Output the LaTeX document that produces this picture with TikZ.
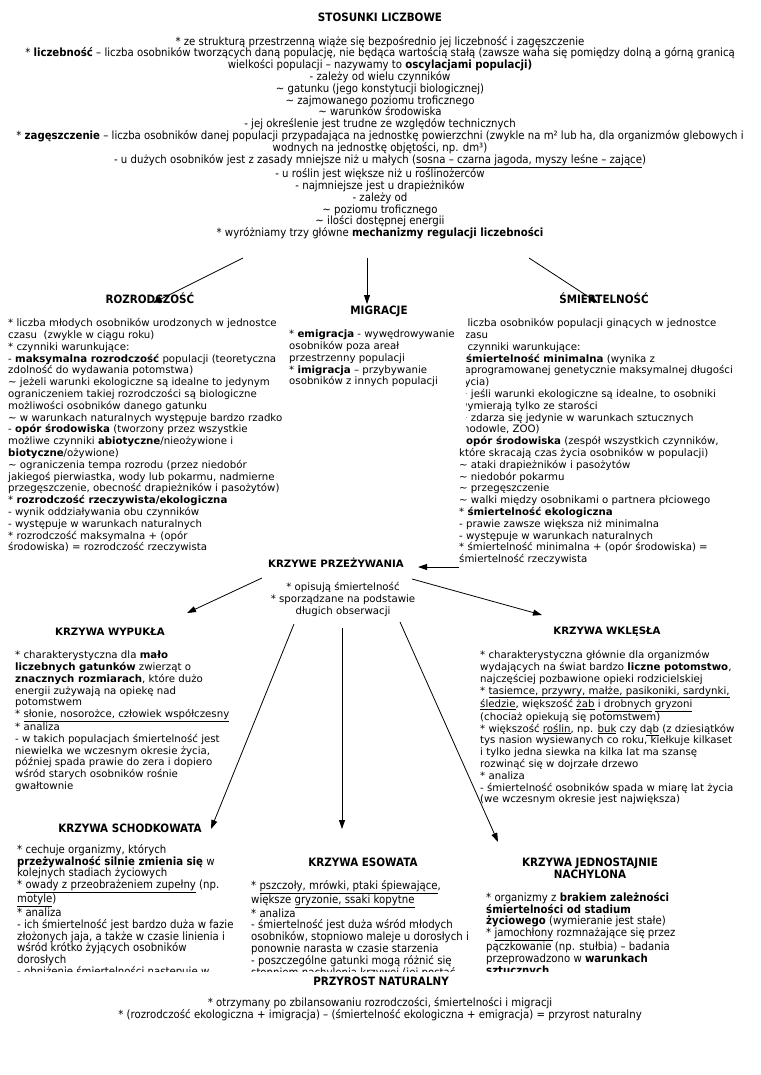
\documentclass[tikz,border=0pt]{standalone}
\usepackage{fontspec}
\setmainfont{DejaVu Sans}
\newfontfamily\calfont[FakeStretch=0.9]{DejaVu Sans}
\usetikzlibrary{arrows.meta}
\newcommand\mystrut{\rule{0pt}{10pt}}
\tikzset{
  body/.style={anchor=north west, inner sep=0pt, align=left, font=\fontsize{10.2}{11.8}\selectfont},
  cbody/.style={anchor=north, inner sep=0pt, align=center, font=\calfont\fontsize{11.3}{11.8}\selectfont},
  clbody/.style={anchor=north west, inner sep=0pt, align=left, font=\calfont\fontsize{11.3}{11.8}\selectfont},
  dhead/.style={inner sep=0pt, font=\bfseries\fontsize{10.2}{11.8}\selectfont},
  chead/.style={inner sep=0pt, align=center, font=\calfont\bfseries\fontsize{11.5}{11.8}\selectfont},
  arr/.style={-{Triangle[length=9pt,width=6pt]}, line width=0.8pt}
}
\begin{document}
\begin{tikzpicture}[x=1pt,y=-1pt]
\useasboundingbox (0,0) rectangle (760,1075);
\fill[white] (0,0) rectangle (760,1075);

\node[chead] (title) at (380,17) {STOSUNKI LICZBOWE};
\node[cbody] (top) at (380,35) {\mystrut* ze strukturą przestrzenną wiąże się bezpośrednio jej liczebność i zagęszczenie\\
* \textbf{liczebność} – liczba osobników tworzących daną populację, nie będąca wartością stałą (zawsze waha się pomiędzy dolną a górną granicą\\
wielkości populacji – nazywamy to \textbf{oscylacjami populacji)}\\
- zależy od wielu czynników\\
\textasciitilde{} gatunku (jego konstytucji biologicznej)\\
\textasciitilde{} zajmowanego poziomu troficznego\\
\textasciitilde{} warunków środowiska\\
- jej określenie jest trudne ze względów technicznych\\
* \textbf{zagęszczenie} – liczba osobników danej populacji przypadająca na jednostkę powierzchni (zwykle na m² lub ha, dla organizmów glebowych i\\
wodnych na jednostkę objętości, np. dm³)\\
- u dużych osobników jest z zasady mniejsze niż u małych (\underline{sosna – czarna jagoda, myszy leśne – zające})\\
- u roślin jest większe niż u roślinożerców\\
- najmniejsze jest u drapieżników\\
- zależy od\\
\textasciitilde{} poziomu troficznego\\
\textasciitilde{} ilości dostępnej energii\\
* wyróżniamy trzy główne \textbf{mechanizmy regulacji liczebności}};

\coordinate (t1) at (243,258);
\coordinate (t2) at (367,258);
\coordinate (t3) at (529,258);
\coordinate (h1) at (153,303);
\coordinate (h2) at (367,304);
\coordinate (h3) at (598,303);

\node[chead] (roz) at (150,298) {ROZRODCZOŚĆ};
\node[chead] (mig) at (379,311) {MIGRACJE};
\node[chead] (smi) at (604,298) {ŚMIERTELNOŚĆ};

\node[body] (rozt) at (8,316.5) {\mystrut* liczba młodych osobników urodzonych w jednostce\\
czasu\ \ (zwykle w ciągu roku)\\
* czynniki warunkujące:\\
- \textbf{maksymalna rozrodczość} populacji (teoretyczna\\
zdolność do wydawania potomstwa)\\
\textasciitilde{} jeżeli warunki ekologiczne są idealne to jedynym\\
ograniczeniem takiej rozrodczości są biologiczne\\
możliwości osobników danego gatunku\\
\textasciitilde{} w warunkach naturalnych występuje bardzo rzadko\\
- \textbf{opór środowiska} (tworzony przez wszystkie\\
możliwe czynniki \textbf{abiotyczne}/nieożywione i\\
\textbf{biotyczne}/ożywione)\\
\textasciitilde{} ograniczenia tempa rozrodu (przez niedobór\\
jakiegoś pierwiastka, wody lub pokarmu, nadmierne\\
przegęszczenie, obecność drapieżników i pasożytów)\\
* \textbf{rozrodczość rzeczywista/ekologiczna}\\
- wynik oddziaływania obu czynników\\
- występuje w warunkach naturalnych\\
* rozrodczość maksymalna + (opór\\
środowiska) = rozrodczość rzeczywista};

\node[body] (smit) at (459,316.5) {\mystrut* liczba osobników populacji ginących w jednostce\\
czasu\\
* czynniki warunkujące:\\
- \textbf{śmiertelność minimalna} (wynika z\\
zaprogramowanej genetycznie maksymalnej długości\\
życia)\\
\textasciitilde{} jeśli warunki ekologiczne są idealne, to osobniki\\
wymierają tylko ze starości\\
\textasciitilde{} zdarza się jedynie w warunkach sztucznych\\
(hodowle, ZOO)\\
- \textbf{opór środowiska} (zespół wszystkich czynników,\\
które skracają czas życia osobników w populacji)\\
\textasciitilde{} ataki drapieżników i pasożytów\\
\textasciitilde{} niedobór pokarmu\\
\textasciitilde{} przegęszczenie\\
\textasciitilde{} walki między osobnikami o partnera płciowego\\
* \textbf{śmiertelność ekologiczna}\\
- prawie zawsze większa niż minimalna\\
- występuje w warunkach naturalnych\\
* śmiertelność minimalna + (opór środowiska) =\\
śmiertelność rzeczywista};
\fill[white] (456,312) rectangle (466,447);

\node[body] (migt) at (289,327.5) {\mystrut* \textbf{emigracja} - wywędrowywanie\\
osobników poza areał\\
przestrzenny populacji\\
* \textbf{imigracja} – przybywanie\\
osobników z innych populacji};

\draw[arr] (t1) -- (h1);
\draw[arr] (t2) -- (h2);
\draw[arr] (t3) -- (h3);

\node[dhead] (kp) at (336,563) {KRZYWE PRZEŻYWANIA};
\node[body, anchor=north, align=center] (kpt) at (343,580.5) {\mystrut* opisują śmiertelność\\
* sporządzane na podstawie\\
długich obserwacji};

\coordinate (t4) at (459,567);
\coordinate (h4) at (418,567);
\draw[arr] (t4) -- (h4);

\node[dhead] (wyp) at (110,632) {KRZYWA WYPUKŁA};
\node[body] (wypt) at (15,648.5) {\mystrut* charakterystyczna dla \textbf{mało}\\
\textbf{liczebnych gatunków} zwierząt o\\
\textbf{znacznych rozmiarach}, które dużo\\
energii zużywają na opiekę nad\\
potomstwem\\
* \underline{słonie, nosorożce, człowiek współczesny}\\
* analiza\\
- w takich populacjach śmiertelność jest\\
niewielka we wczesnym okresie życia,\\
później spada prawie do zera i dopiero\\
wśród starych osobników rośnie\\
gwałtownie};

\node[dhead] (wkl) at (607,632) {KRZYWA WKLĘSŁA};
\node[body] (wklt) at (480,648.5) {\mystrut* charakterystyczna głównie dla organizmów\\
wydających na świat bardzo \textbf{liczne potomstwo},\\
najczęściej pozbawione opieki rodzicielskiej\\
* \underline{tasiemce, przywry, małże, pasikoniki, sardynki,}\\
\underline{śledzie}, większość \underline{żab} i \underline{drobnych} \underline{gryzoni}\\
(chociaż opiekują się potomstwem)\\
* większość \underline{roślin}, np. \underline{buk} czy d\underline{ąb} (z dziesiątków\\
tys nasion wysiewanych co roku, kiełkuje kilkaset\\
i tylko jedna siewka na kilka lat ma szansę\\
rozwinąć się w dojrzałe drzewo\\
* analiza\\
- śmiertelność osobników spada w miarę lat życia\\
(we wczesnym okresie jest największa)};

\coordinate (t5) at (262,578);
\coordinate (h5) at (187,613);
\coordinate (t6) at (412,579);
\coordinate (h6) at (542,615);
\coordinate (t7) at (294,624);
\coordinate (h7) at (211,829);
\coordinate (t8) at (342,628);
\coordinate (h8) at (342,829);
\coordinate (t9) at (400,622);
\coordinate (h9) at (498,842);
\draw[arr] (t5) -- (h5);
\draw[arr] (t6) -- (h6);
\draw[arr] (t7) -- (h7);
\draw[arr] (t8) -- (h8);
\draw[arr] (t9) -- (h9);

\node[chead] (sch) at (130,828) {KRZYWA SCHODKOWATA};
\node[chead] (eso) at (363,862) {KRZYWA ESOWATA};
\node[chead] (jed) at (590,868) {KRZYWA JEDNOSTAJNIE\\NACHYLONA};

\begin{scope}
\clip (0,835) rectangle (760,971);
\node[clbody] (scht) at (17,843) {\mystrut* cechuje organizmy, których\\
\textbf{przeżywalność silnie zmienia się} w\\
kolejnych stadiach życiowych\\
* \underline{owady z przeobrażeniem zupełny} (np.\\
\underline{motyle})\\
* analiza\\
- ich śmiertelność jest bardzo duża w fazie\\
złożonych jaja, a także w czasie linienia i\\
wśród krótko żyjących osobników\\
dorosłych\\
- obniżenie śmiertelności następuje w};
\node[clbody] (esot) at (251,879) {\mystrut* \underline{pszczoły, mrówki, ptaki śpiewające},\\
większe \underline{gryzonie, ssaki kopytne}\\
* analiza\\
- śmiertelność jest duża wśród młodych\\
osobników, stopniowo maleje u dorosłych i\\
ponownie narasta w czasie starzenia\\
- poszczególne gatunki mogą różnić się\\
stopniem nachylenia krzywej (jej postać};
\node[clbody] (jedt) at (486,891) {\mystrut* organizmy z \textbf{brakiem zależności}\\
\textbf{śmiertelności od stadium}\\
\textbf{życiowego} (wymieranie jest stałe)\\
* \underline{jamochłony} rozmnażające się przez\\
pączkowanie (np. stułbia) – badania\\
przeprowadzono w \textbf{warunkach}\\
\textbf{sztucznych}};
\end{scope}

\node[chead] (prz) at (381,981) {PRZYROST NATURALNY};
\node[cbody] (przt) at (380,996) {\mystrut* otrzymany po zbilansowaniu rozrodczości, śmiertelności i migracji\\
* (rozrodczość ekologiczna + imigracja) – (śmiertelność ekologiczna + emigracja) = przyrost naturalny};
\end{tikzpicture}
\end{document}
